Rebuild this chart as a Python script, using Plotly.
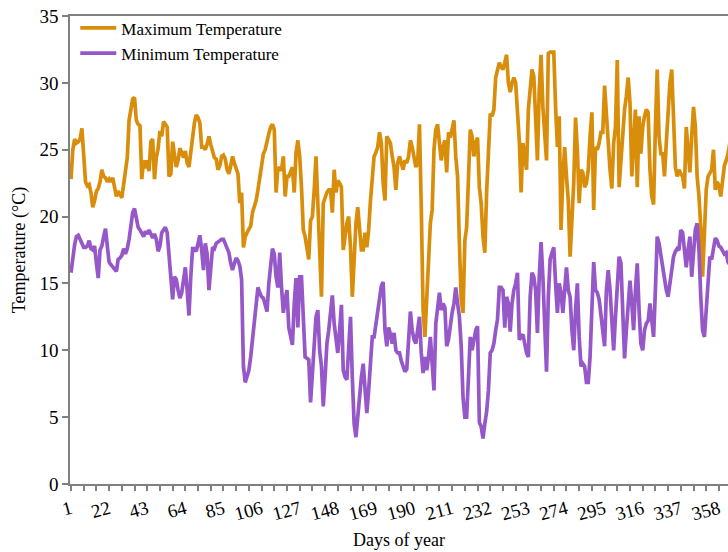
import plotly.graph_objects as go

# Daily maximum and minimum air temperature (°C), day 1 to day 365
days = list(range(1, 366))

max_temp = [
    22.8, 25.0, 25.8, 25.5, 25.6, 25.8, 26.6, 24.5, 22.6, 22.3,
    22.4, 21.8, 20.7, 21.2, 21.9, 22.1, 22.6, 23.5, 23.0, 22.9,
    22.6, 22.8, 22.6, 22.9, 22.2, 21.5, 21.9, 21.7, 21.4, 22.4,
    23.2, 24.4, 27.2, 28.2, 28.8, 28.9, 27.2, 26.9, 26.8, 22.8,
    24.2, 23.6, 24.2, 23.4, 25.6, 25.8, 22.8, 24.4, 25.1, 26.4,
    26.0, 27.1, 26.9, 26.7, 23.0, 23.2, 25.6, 24.6, 23.7, 24.2,
    25.1, 24.8, 24.4, 24.9, 24.0, 23.7, 25.0, 26.0, 27.0, 27.6,
    27.4, 27.0, 25.2, 25.2, 25.0, 25.4, 26.0, 25.4, 25.0, 24.4,
    24.3, 23.5, 23.8, 24.5, 24.6, 24.3, 23.5, 23.2, 23.8, 24.5,
    24.0, 23.5, 23.2, 21.0, 21.8, 17.7, 18.5, 18.8, 19.0, 19.3,
    20.3, 20.8, 21.2, 22.0, 23.0, 24.0, 24.7, 25.0, 25.8, 26.2,
    26.7, 26.9, 26.5, 21.8, 23.7, 23.5, 23.5, 24.5, 21.5, 23.0,
    23.0, 23.4, 23.7, 21.8, 24.8, 25.7, 24.5, 22.2, 19.0, 18.5,
    17.7, 16.8, 19.7, 20.0, 22.0, 24.5, 21.0, 17.0, 14.0, 21.0,
    21.5, 21.8, 22.0, 22.0, 20.3, 23.5, 21.8, 22.7, 22.5, 22.2,
    17.5, 18.8, 19.5, 20.0, 17.7, 14.0, 17.0, 19.5, 20.7, 19.3,
    17.5, 17.5, 18.8, 17.7, 19.0, 21.2, 23.0, 24.5, 24.8, 25.2,
    26.3, 25.5, 22.5, 21.2, 26.0, 25.7, 25.5, 24.5, 23.7, 22.0,
    24.0, 24.5, 24.0, 23.5, 24.2, 24.0, 24.5, 25.7, 25.2, 24.2,
    23.7, 24.0, 26.9, 20.7, 13.0, 11.0, 14.0, 18.0, 19.5, 20.5,
    25.0, 26.5, 26.9, 25.5, 24.2, 25.2, 25.7, 23.3, 26.3, 25.9,
    26.5, 27.2, 24.5, 23.0, 18.0, 13.8, 12.8, 18.2, 19.2, 22.5,
    26.5, 26.0, 24.5, 25.5, 25.9, 22.2, 21.0, 18.5, 17.3, 21.8,
    25.0, 27.7, 27.5, 28.0, 30.4, 31.0, 31.5, 31.2, 31.0, 31.5,
    32.1, 30.0, 29.3, 30.0, 30.4, 30.0, 28.0, 25.7, 21.8, 25.5,
    24.5, 23.5, 28.0, 29.5, 31.0, 30.5, 27.0, 24.2, 29.5, 32.1,
    28.2, 26.0, 24.2, 32.2, 32.3, 32.3, 32.3, 28.2, 25.2, 27.5,
    19.0, 23.0, 25.2, 23.0, 21.2, 17.0, 20.0, 22.5, 27.4, 25.0,
    21.0, 23.5, 23.3, 22.2, 22.5, 23.5, 26.0, 27.8, 20.5, 25.2,
    25.0, 25.5, 26.3, 26.3, 29.8, 27.5, 25.2, 23.5, 22.1, 25.5,
    26.7, 31.7, 22.2, 24.0, 26.7, 28.0, 29.0, 30.4, 28.5, 23.0,
    25.5, 28.0, 22.2, 27.5, 24.7, 26.7, 27.5, 28.0, 27.8, 23.5,
    21.5, 20.9, 26.7, 31.0, 26.0, 24.7, 24.7, 23.0, 25.5, 28.0,
    30.0, 31.0, 28.0, 23.7, 23.0, 23.5, 23.2, 23.0, 22.1, 26.7,
    25.0, 23.3, 26.0, 28.2, 26.7, 23.0, 21.5, 19.2, 15.5, 19.0,
    22.0, 23.0, 23.2, 23.5, 25.0, 22.0, 22.6, 22.3, 21.5, 23.0,
    23.8, 24.2, 24.7, 25.5, 25.8,
]

min_temp = [
    15.8, 17.2, 17.9, 18.5, 18.6, 18.3, 17.9, 17.7, 17.7, 17.8,
    18.2, 17.6, 17.5, 17.8, 16.5, 15.4, 17.5, 17.8, 18.5, 19.1,
    17.8, 16.6, 16.4, 16.2, 16.0, 15.9, 16.8, 16.9, 17.1, 17.6,
    17.2, 17.6, 18.3, 19.6, 20.3, 20.6, 19.8, 19.2, 19.0, 18.7,
    18.5, 18.9, 18.7, 19.0, 18.6, 18.4, 18.7, 18.3, 17.4, 17.8,
    18.8, 19.0, 19.2, 18.8, 17.3, 16.0, 13.8, 15.5, 15.3, 14.5,
    13.9, 14.3, 15.5, 16.2, 14.5, 12.6, 15.5, 17.6, 17.6, 17.4,
    18.0, 18.6, 17.5, 16.0, 18.0, 17.2, 14.5, 16.5, 17.7, 17.6,
    18.0, 18.1, 18.2, 18.3, 18.3, 17.9, 17.6, 17.3, 16.5, 16.0,
    16.5, 16.9, 16.7, 16.3, 15.3, 8.8, 7.6, 8.0, 8.5, 9.5,
    10.8, 12.0, 13.5, 14.7, 14.3, 14.0, 13.9, 13.5, 12.9, 15.0,
    16.5, 17.6, 17.2, 15.5, 14.7, 17.3, 14.7, 12.8, 13.8, 14.5,
    11.7, 11.0, 10.4, 13.5, 15.4, 11.7, 15.5, 15.5, 12.5, 9.5,
    9.4, 9.3, 6.1, 8.5, 10.5, 12.5, 13.0, 10.0, 8.8, 5.8,
    8.0, 10.5, 11.5, 13.0, 14.1, 12.0, 11.0, 9.8, 11.5, 13.4,
    8.5, 8.0, 7.8, 10.0, 12.5, 8.0, 4.5, 3.5, 5.3, 6.5,
    8.0, 9.0, 7.5, 5.3, 7.0, 9.0, 11.0, 11.0, 12.0, 13.2,
    14.0, 14.8, 15.1, 11.5, 10.3, 11.7, 11.2, 10.5, 11.3, 10.0,
    9.8, 9.8, 9.2, 8.8, 8.4, 8.6, 10.5, 12.9, 11.5, 10.8,
    10.5, 11.8, 12.5, 9.8, 8.3, 9.5, 8.5, 9.5, 11.0, 9.0,
    7.0, 12.0, 13.5, 14.3, 13.0, 13.5, 13.2, 10.3, 10.8, 12.0,
    12.8, 13.5, 14.7, 13.5, 12.5, 10.3, 6.5, 5.0, 5.0, 8.0,
    11.0, 10.0, 10.8, 11.5, 11.8, 4.6, 4.3, 3.4, 4.5, 5.4,
    7.0, 9.8, 10.0, 10.5, 11.5, 12.3, 14.7, 14.7, 14.5, 11.7,
    14.0, 13.5, 11.4, 13.5, 14.5, 15.0, 15.8, 10.8, 11.0, 11.2,
    10.5, 9.8, 9.5, 14.0, 15.8, 15.5, 14.5, 11.3, 15.5, 18.1,
    15.5, 12.0, 8.4, 14.0, 16.8, 17.3, 17.7, 15.0, 12.8, 15.0,
    14.3, 12.8, 15.0, 16.2, 14.5, 14.0, 11.5, 10.0, 13.0, 15.0,
    11.0, 8.8, 9.0, 8.8, 7.6, 7.6, 9.5, 14.0, 16.6, 14.5,
    14.3, 13.8, 12.5, 11.0, 10.3, 14.5, 16.0, 14.5, 11.5, 10.0,
    12.5, 15.0, 17.0, 16.5, 12.5, 9.4, 11.5, 13.5, 15.2, 13.5,
    11.5, 14.5, 16.5, 13.0, 10.5, 10.0, 11.5, 12.0, 12.2, 13.5,
    12.5, 11.0, 14.5, 18.5, 18.0, 17.0, 16.2, 15.5, 14.5, 14.0,
    15.0, 16.0, 17.0, 17.4, 17.6, 17.5, 19.0, 18.8, 17.5, 16.2,
    17.5, 18.5, 15.5, 17.5, 19.0, 19.5, 17.5, 14.0, 11.5, 11.0,
    13.0, 16.0, 17.0, 16.8, 17.5, 18.4, 18.2, 17.8, 17.7, 17.5,
    17.2, 17.3, 16.6, 16.4, 16.2,
]

y_ticks = [0, 5, 10, 15, 20, 25, 30, 35]
x_ticks = list(range(1, 366, 21))

MAX_COLOR = "#D98E0B"
MIN_COLOR = "#9657C9"
AXIS_COLOR = "#808080"
FONT = "Liberation Serif, Times New Roman, serif"

fig = go.Figure()
fig.add_trace(go.Scatter(
    x=days, y=max_temp, mode="lines", name="Maximum Temperature",
    line=dict(color=MAX_COLOR, width=3.7),
))
fig.add_trace(go.Scatter(
    x=days, y=min_temp, mode="lines", name="Minimum Temperature",
    line=dict(color=MIN_COLOR, width=3.7),
))

fig.update_layout(
    width=728, height=552,
    margin=dict(l=70, r=0, t=16, b=68),
    paper_bgcolor="white", plot_bgcolor="white",
    font=dict(family=FONT, color="black", size=19),
    showlegend=True,
    legend=dict(
        x=0.008, y=1.012, xanchor="left", yanchor="top",
        bgcolor="rgba(0,0,0,0)", borderwidth=0,
        font=dict(family=FONT, size=17, color="black"),
        tracegroupgap=0, itemwidth=36,
    ),
)

fig.update_xaxes(
    range=[0.45, 363.0],
    tickmode="array", tickvals=x_ticks, ticktext=[str(v) for v in x_ticks],
    tickangle=-15,
    ticks="outside", ticklen=5, tickcolor=AXIS_COLOR, tickwidth=1.5,
    minor=dict(tick0=1, dtick=7, ticks="outside", ticklen=5,
               tickcolor=AXIS_COLOR, tickwidth=1.5, showgrid=False),
    showline=True, linecolor=AXIS_COLOR, linewidth=1.5, mirror=True,
    showgrid=False, zeroline=False,
    tickfont=dict(family=FONT, size=19, color="black"),
    title=dict(text="Days of year", font=dict(family=FONT, size=18, color="black"),
               standoff=10),
)

fig.update_yaxes(
    range=[0, 35],
    tickmode="array", tickvals=y_ticks,
    ticks="outside", ticklen=6, tickcolor=AXIS_COLOR, tickwidth=1.5,
    showline=True, linecolor=AXIS_COLOR, linewidth=1.5,
    showgrid=False, zeroline=False,
    tickfont=dict(family=FONT, size=19, color="black"),
    title=dict(text="Temperature (°C)", font=dict(family=FONT, size=18, color="black"),
               standoff=9),
)

fig.write_html("out.html")
